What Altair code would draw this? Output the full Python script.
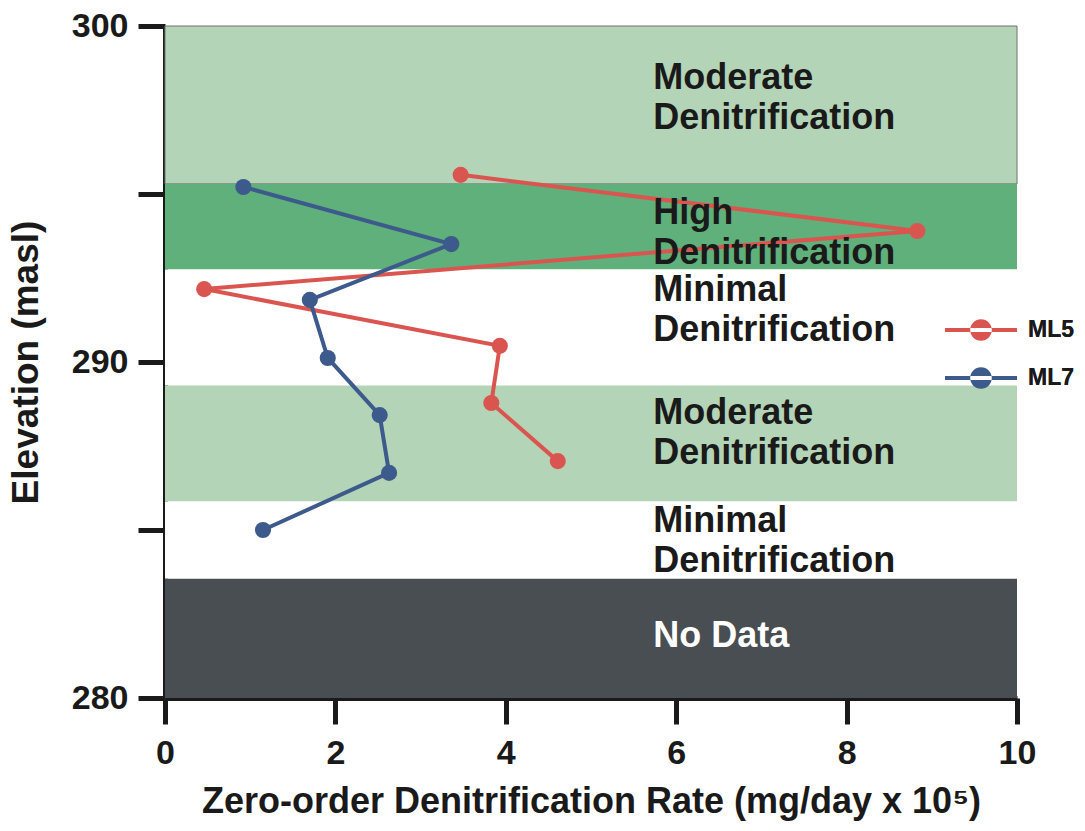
import altair as alt
import pandas as pd

# ---- data ----
band_top = [300, 295.3, 292.75, 289.3, 285.85, 283.55]
band_bottom = [295.3, 292.75, 289.3, 285.85, 283.55, 280]
band_kind = ["Moderate", "High", "Minimal", "Moderate", "Minimal", "No Data"]
band_text = ["Moderate\nDenitrification", "High\nDenitrification", "Minimal\nDenitrification",
             "Moderate\nDenitrification", "Minimal\nDenitrification", "No Data"]
band_text_y = [298.45, 294.43, 292.14, 288.48, 285.27, 281.85]
band_text_x = 5.73

ml5_rate = [3.47, 8.83, 0.46, 3.93, 3.83, 4.61]
ml5_elev = [295.57, 293.9, 292.17, 290.48, 288.78, 287.05]
ml7_rate = [0.92, 3.36, 1.70, 1.91, 2.52, 2.63, 1.15]
ml7_elev = [295.21, 293.51, 291.85, 290.12, 288.42, 286.70, 285.0]

kind_domain = ["Moderate", "High", "Minimal", "No Data"]
kind_colors = ["#b3d4b6", "#5fb07b", "#ffffff", "#484e52"]
series_colors = ["#db5550", "#3d5a8c"]

bands = pd.DataFrame({"top": band_top, "bottom": band_bottom, "kind": band_kind,
                      "label": band_text, "ty": band_text_y, "tx": band_text_x,
                      "tcol": ["dark"] * 5 + ["light"]})
pts = pd.DataFrame({
    "rate": ml5_rate + ml7_rate,
    "elev": ml5_elev + ml7_elev,
    "series": ["ML5"] * len(ml5_rate) + ["ML7"] * len(ml7_rate),
    "order": list(range(len(ml5_rate))) + list(range(len(ml7_rate))),
})

FONT = "Liberation Sans"

xscale = alt.Scale(domain=[0, 10], nice=False, zero=False)
yscale = alt.Scale(domain=[280, 300], nice=False, zero=False)

xaxis = alt.Axis(title="Zero-order Denitrification Rate (mg/day x 10⁵)", values=[0, 2, 4, 6, 8, 10],
                 format="d",
                 grid=False, domainColor="#1a1a1a", domainWidth=5, tickColor="#1a1a1a", tickWidth=5,
                 tickSize=26, labelPadding=12, labelFontSize=34, labelFont=FONT, labelFontWeight="bold",
                 labelColor="#1a1a1a", titleFont=FONT, titleFontSize=36, titleFontWeight="bold",
                 titleColor="#1a1a1a", titlePadding=14, labelFlush=False)
yaxis = alt.Axis(title="Elevation (masl)", values=[280, 285, 290, 295, 300],
                 labelExpr="datum.value % 10 == 0 ? datum.label : ''",
                 grid=False, domainColor="#1a1a1a", domainWidth=5, tickColor="#1a1a1a", tickWidth=5,
                 tickSize=27, labelPadding=10, labelFontSize=34, labelFont=FONT, labelFontWeight="bold",
                 labelColor="#1a1a1a", titleFont=FONT, titleFontSize=37, titleFontWeight="bold",
                 titleColor="#1a1a1a", titlePadding=26, labelFlush=False)

rects = alt.Chart(bands).mark_rect(stroke="#707070", strokeWidth=1).encode(
    x=alt.value(0), x2=alt.value(852),
    y=alt.Y("top:Q", scale=yscale, axis=yaxis),
    y2="bottom:Q",
    fill=alt.Fill("kind:N", scale=alt.Scale(domain=kind_domain, range=kind_colors), legend=None),
    strokeOpacity=alt.condition("datum.kind == 'Moderate' && datum.top == 300", alt.value(1), alt.value(0)),
)

legend_path = ("M-1,-0.055L1,-0.055L1,0.055L-1,0.055Z "
               "M-0.3,0A0.3,0.3 0 1,0 0.3,0A0.3,0.3 0 1,0 -0.3,0Z")
leg = alt.Legend(title=None, orient="none", legendX=780, legendY=268, symbolType=legend_path,
                 symbolSize=5184, symbolStrokeWidth=0, labelFont=FONT, labelFontSize=23,
                 labelFontWeight="bold", labelColor="#1a1a1a", labelOffset=11, rowPadding=-9,
                 symbolOpacity=1)
cscale = alt.Scale(domain=["ML5", "ML7"], range=series_colors)

lines = alt.Chart(pts).mark_line(strokeWidth=4).encode(
    x=alt.X("rate:Q", scale=xscale, axis=xaxis),
    y=alt.Y("elev:Q", scale=yscale),
    color=alt.Color("series:N", scale=cscale, legend=leg),
    order="order:Q",
)
points = alt.Chart(pts).mark_point(filled=True, size=260, opacity=1).encode(
    x=alt.X("rate:Q", scale=xscale),
    y=alt.Y("elev:Q", scale=yscale),
    color=alt.Color("series:N", scale=cscale, legend=leg),
)

texts = alt.Chart(bands).mark_text(align="left", baseline="middle", lineBreak="\n", lineHeight=40,
                                   font=FONT, fontSize=36, fontWeight="bold").encode(
    x=alt.X("tx:Q", scale=xscale),
    y=alt.Y("ty:Q", scale=yscale),
    text="label:N",
    color=alt.Color("tcol:N", scale=alt.Scale(domain=["dark", "light"], range=["#1a1a1a", "#ffffff"]),
                    legend=None),
)

chart = alt.layer(rects, lines, points, texts).resolve_scale(color="independent").properties(
    width=852, height=672,
    autosize=alt.AutoSizeParams(type="none"),
    padding={"left": 165, "top": 26, "right": 68, "bottom": 133},
    background="white",
).configure_view(stroke=None)

chart.save("out.html", embed_options={"renderer": "svg", "actions": False})
